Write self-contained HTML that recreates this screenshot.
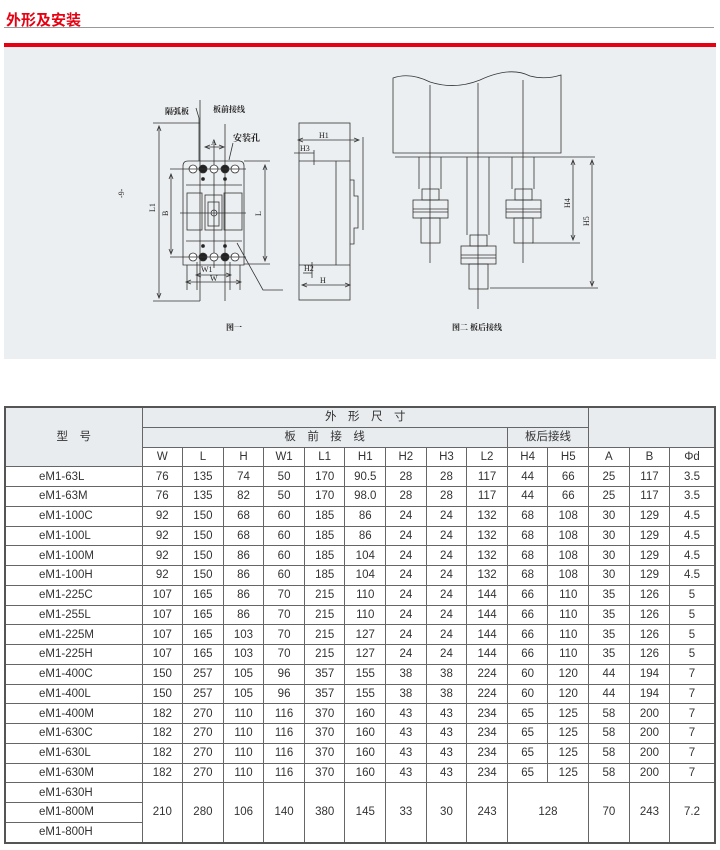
<!DOCTYPE html>
<html><head><meta charset="utf-8">
<style>
body{margin:0;width:720px;height:850px;background:#fff;position:relative;overflow:hidden;font-family:"Liberation Sans","Noto Sans CJK SC",sans-serif;}
.title{position:absolute;left:6px;top:9px;font-size:15px;font-weight:bold;color:#e60012;}
.tl{position:absolute;left:4px;top:27px;width:710px;height:1px;background:#999;}
.red{position:absolute;left:4px;top:43px;width:712px;height:4px;background:#e60012;}
.panel{position:absolute;left:4px;top:47px;width:712px;height:312px;background:#eceff1;}
svg{position:absolute;left:0;top:0;}
table{position:absolute;left:4px;top:406px;width:710px;border-collapse:collapse;table-layout:fixed;border:2px solid #555;}
td{border:1px solid #666;height:18.75px;padding:0;text-align:center;font-size:11.5px;color:#333;line-height:12px;}
tr.h td{background:#e9ecef;}
td.m{text-align:left;padding-left:33px;}
</style></head><body>
<div class="title">外形及安装</div>
<div class="tl"></div>
<div class="red"></div>
<div class="panel"></div>
<svg width="720" height="360" viewBox="0 0 720 360" fill="none" stroke="#333" stroke-width="0.8" font-family="Liberation Serif,Noto Serif CJK SC,serif">
<line x1="153" y1="123" x2="200" y2="123"/><line x1="153" y1="301" x2="200" y2="301"/>
<line x1="159" y1="126" x2="159" y2="298"/>
<path d="M157 131 L159 126 L161 131 M157 293 L159 298 L161 293" />
<path d="M183 265 L183 166 Q183 161 188 161 L239 161 Q244 161 244 166 L244 265 Z"/>
<line x1="186" y1="185" x2="242" y2="185"/><line x1="186" y1="241" x2="242" y2="241"/>
<line x1="200" y1="100" x2="200" y2="301"/><line x1="225" y1="124" x2="225" y2="301"/>
<line x1="214" y1="140" x2="214" y2="268"/>
<line x1="180" y1="213" x2="246" y2="213"/>
<g fill="#fff"><circle cx="193" cy="169" r="4"/><circle cx="214" cy="169" r="4"/><circle cx="235" cy="169" r="4"/>
<circle cx="193" cy="257" r="4"/><circle cx="214" cy="257" r="4"/><circle cx="235" cy="257" r="4"/></g>
<g fill="#222"><circle cx="203" cy="169" r="4"/><circle cx="225" cy="169" r="4"/><circle cx="203" cy="257" r="4"/><circle cx="225" cy="257" r="4"/>
<circle cx="203" cy="179" r="1.5"/><circle cx="225" cy="179" r="1.5"/><circle cx="203" cy="246" r="1.5"/><circle cx="225" cy="246" r="1.5"/></g>
<line x1="170" y1="169" x2="246" y2="169"/><line x1="170" y1="257" x2="246" y2="257"/>
<rect x="187" y="193" width="15" height="37"/><rect x="205" y="195" width="17" height="35"/><rect x="224" y="193" width="18" height="37"/>
<rect x="208" y="202" width="11" height="24"/><circle cx="214" cy="213" r="3"/>
<line x1="171" y1="175" x2="171" y2="253"/><path d="M169 179 L171 174 L173 179 M169 249 L171 254 L173 249"/>
<line x1="244" y1="161" x2="270" y2="161"/><line x1="244" y1="264" x2="270" y2="264"/>
<line x1="265" y1="166" x2="265" y2="260"/><path d="M263 170 L265 165 L267 170 M263 256 L265 261 L267 256"/>
<line x1="206" y1="147" x2="223" y2="147"/><path d="M210 145 L205 147 L210 149 M219 145 L224 147 L219 149"/>
<line x1="197" y1="275" x2="230" y2="275"/><line x1="187" y1="282" x2="240" y2="282"/>
<path d="M201 273 L196 275 L201 277 M226 273 L231 275 L226 277 M191 280 L186 282 L191 284 M236 280 L241 282 L236 284"/>
<line x1="197" y1="262" x2="197" y2="290"/><line x1="230" y1="262" x2="230" y2="290"/>
<line x1="187" y1="265" x2="187" y2="290"/><line x1="240" y1="265" x2="240" y2="290"/>
<path d="M196 108 L199 118 L199 161"/><path d="M233 143 L229 160"/>
<path d="M237 243 L263 290 L283 290"/>
<rect x="299" y="123" width="51" height="177"/>
<line x1="299" y1="161" x2="350" y2="161"/><line x1="299" y1="265" x2="350" y2="265"/>
<line x1="336" y1="161" x2="336" y2="265"/>
<path d="M350 180 L354 180 L354 196 L358 196 L358 228 L354 228 L354 244 L350 244"/>
<line x1="363" y1="137" x2="363" y2="230"/>
<line x1="299" y1="140" x2="358" y2="140"/><path d="M303 138 L298 140 L303 142 M354 138 L359 140 L354 142"/>
<line x1="294" y1="153" x2="314" y2="153"/><line x1="314" y1="150" x2="314" y2="165"/>
<line x1="303" y1="273" x2="312" y2="273"/><line x1="312" y1="262" x2="312" y2="278"/>
<line x1="303" y1="285" x2="349" y2="285"/><path d="M307 283 L302 285 L307 287 M345 283 L350 285 L345 287"/>
<path d="M393 153 L393 78 Q410 72 430 82 Q455 90 480 80 Q510 66 530 76 Q545 80 561 75 L561 153 Z"/>
<line x1="395" y1="157" x2="595" y2="157"/>
<line x1="430" y1="85" x2="430" y2="263"/><line x1="478" y1="83" x2="478" y2="309"/><line x1="523" y1="80" x2="523" y2="263"/>
<g id="n">
<line x1="419" y1="157" x2="419" y2="189"/><line x1="441" y1="157" x2="441" y2="189"/>
<rect x="422" y="189" width="17" height="11"/><rect x="413" y="200" width="35" height="18"/><line x1="413" y1="209" x2="448" y2="209"/><line x1="413" y1="212" x2="448" y2="212"/>
<rect x="421" y="218" width="19" height="25"/>
</g>
<use href="#n" transform="translate(93,0)"/>
<g transform="translate(48,46)">
<line x1="419" y1="111" x2="419" y2="189"/><line x1="441" y1="111" x2="441" y2="189"/>
<rect x="422" y="189" width="17" height="11"/><rect x="413" y="200" width="35" height="18"/><line x1="413" y1="209" x2="448" y2="209"/><line x1="413" y1="212" x2="448" y2="212"/>
<rect x="421" y="218" width="19" height="25"/>
</g>
<line x1="532" y1="243" x2="580" y2="243"/><line x1="490" y1="288" x2="598" y2="288"/>
<line x1="573" y1="160" x2="573" y2="240"/><path d="M571 165 L573 160 L575 165 M571 235 L573 240 L575 235"/>
<line x1="592" y1="160" x2="592" y2="286"/><path d="M590 165 L592 160 L594 165 M590 281 L592 286 L594 281"/>
<g fill="#222" stroke="none" font-size="8">
<text x="165" y="114" font-weight="bold">隔弧板</text>
<text x="213" y="112" font-weight="bold">板前接线</text>
<text x="233" y="141" font-weight="bold" font-size="9">安装孔</text>
<text x="211" y="145">A</text>
<text x="201" y="272">W1</text><text x="210" y="281">W</text>
<text x="319" y="138">H1</text><text x="300" y="151">H3</text><text x="304" y="271">H2</text><text x="320" y="283">H</text>
<text transform="translate(155,212) rotate(-90)">L1</text>
<text transform="translate(168,216) rotate(-90)">B</text>
<text transform="translate(261,216) rotate(-90)">L</text>
<text transform="translate(124,198) rotate(-90)">-9-</text>
<text transform="translate(570,208) rotate(-90)">H4</text>
<text transform="translate(589,226) rotate(-90)">H5</text>
<text x="226" y="330" font-weight="bold">图一</text>
<text x="452" y="330" font-weight="bold">图二 板后接线</text>
</g>
</svg>
<table>
<colgroup><col style="width:137px"><col span="13" style="width:40.6px"><col style="width:45px"></colgroup>
<tr class="h"><td rowspan="3">型　号</td><td colspan="11">外　形　尺　寸</td><td colspan="3" rowspan="2"></td></tr>
<tr class="h"><td colspan="9">板　前　接　线</td><td colspan="2">板后接线</td></tr>
<tr><td>W</td><td>L</td><td>H</td><td>W1</td><td>L1</td><td>H1</td><td>H2</td><td>H3</td><td>L2</td><td>H4</td><td>H5</td><td>A</td><td>B</td><td>Φd</td></tr>
<tr><td class="m">eM1-63L</td><td>76</td><td>135</td><td>74</td><td>50</td><td>170</td><td>90.5</td><td>28</td><td>28</td><td>117</td><td>44</td><td>66</td><td>25</td><td>117</td><td>3.5</td></tr>
<tr><td class="m">eM1-63M</td><td>76</td><td>135</td><td>82</td><td>50</td><td>170</td><td>98.0</td><td>28</td><td>28</td><td>117</td><td>44</td><td>66</td><td>25</td><td>117</td><td>3.5</td></tr>
<tr><td class="m">eM1-100C</td><td>92</td><td>150</td><td>68</td><td>60</td><td>185</td><td>86</td><td>24</td><td>24</td><td>132</td><td>68</td><td>108</td><td>30</td><td>129</td><td>4.5</td></tr>
<tr><td class="m">eM1-100L</td><td>92</td><td>150</td><td>68</td><td>60</td><td>185</td><td>86</td><td>24</td><td>24</td><td>132</td><td>68</td><td>108</td><td>30</td><td>129</td><td>4.5</td></tr>
<tr><td class="m">eM1-100M</td><td>92</td><td>150</td><td>86</td><td>60</td><td>185</td><td>104</td><td>24</td><td>24</td><td>132</td><td>68</td><td>108</td><td>30</td><td>129</td><td>4.5</td></tr>
<tr><td class="m">eM1-100H</td><td>92</td><td>150</td><td>86</td><td>60</td><td>185</td><td>104</td><td>24</td><td>24</td><td>132</td><td>68</td><td>108</td><td>30</td><td>129</td><td>4.5</td></tr>
<tr><td class="m">eM1-225C</td><td>107</td><td>165</td><td>86</td><td>70</td><td>215</td><td>110</td><td>24</td><td>24</td><td>144</td><td>66</td><td>110</td><td>35</td><td>126</td><td>5</td></tr>
<tr><td class="m">eM1-255L</td><td>107</td><td>165</td><td>86</td><td>70</td><td>215</td><td>110</td><td>24</td><td>24</td><td>144</td><td>66</td><td>110</td><td>35</td><td>126</td><td>5</td></tr>
<tr><td class="m">eM1-225M</td><td>107</td><td>165</td><td>103</td><td>70</td><td>215</td><td>127</td><td>24</td><td>24</td><td>144</td><td>66</td><td>110</td><td>35</td><td>126</td><td>5</td></tr>
<tr><td class="m">eM1-225H</td><td>107</td><td>165</td><td>103</td><td>70</td><td>215</td><td>127</td><td>24</td><td>24</td><td>144</td><td>66</td><td>110</td><td>35</td><td>126</td><td>5</td></tr>
<tr><td class="m">eM1-400C</td><td>150</td><td>257</td><td>105</td><td>96</td><td>357</td><td>155</td><td>38</td><td>38</td><td>224</td><td>60</td><td>120</td><td>44</td><td>194</td><td>7</td></tr>
<tr><td class="m">eM1-400L</td><td>150</td><td>257</td><td>105</td><td>96</td><td>357</td><td>155</td><td>38</td><td>38</td><td>224</td><td>60</td><td>120</td><td>44</td><td>194</td><td>7</td></tr>
<tr><td class="m">eM1-400M</td><td>182</td><td>270</td><td>110</td><td>116</td><td>370</td><td>160</td><td>43</td><td>43</td><td>234</td><td>65</td><td>125</td><td>58</td><td>200</td><td>7</td></tr>
<tr><td class="m">eM1-630C</td><td>182</td><td>270</td><td>110</td><td>116</td><td>370</td><td>160</td><td>43</td><td>43</td><td>234</td><td>65</td><td>125</td><td>58</td><td>200</td><td>7</td></tr>
<tr><td class="m">eM1-630L</td><td>182</td><td>270</td><td>110</td><td>116</td><td>370</td><td>160</td><td>43</td><td>43</td><td>234</td><td>65</td><td>125</td><td>58</td><td>200</td><td>7</td></tr>
<tr><td class="m">eM1-630M</td><td>182</td><td>270</td><td>110</td><td>116</td><td>370</td><td>160</td><td>43</td><td>43</td><td>234</td><td>65</td><td>125</td><td>58</td><td>200</td><td>7</td></tr>
<tr><td class="m">eM1-630H</td><td rowspan="3">210</td><td rowspan="3">280</td><td rowspan="3">106</td><td rowspan="3">140</td><td rowspan="3">380</td><td rowspan="3">145</td><td rowspan="3">33</td><td rowspan="3">30</td><td rowspan="3">243</td><td rowspan="3" colspan="2">128</td><td rowspan="3">70</td><td rowspan="3">243</td><td rowspan="3">7.2</td></tr>
<tr><td class="m">eM1-800M</td></tr>
<tr><td class="m">eM1-800H</td></tr>
</table>
</body></html>
